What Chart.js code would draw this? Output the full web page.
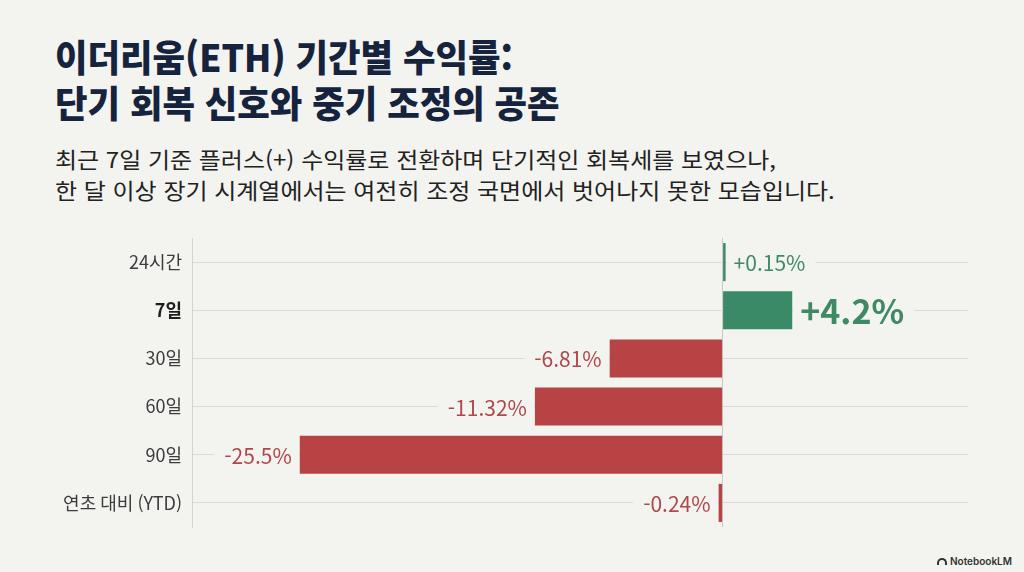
<!DOCTYPE html>
<html lang="ko">
<head>
<meta charset="utf-8">
<script src="https://cdn.jsdelivr.net/npm/chart.js@4.4.1/dist/chart.umd.min.js"></script>
<style>
  html, body { margin:0; padding:0; background:#f3f3ef; }
  body { width:1024px; height:572px; position:relative; overflow:hidden; font-family:"Noto Sans CJK KR","Noto Sans",sans-serif; }
  #title { position:absolute; left:55px; top:33px; margin:0; font-size:37px; font-weight:900; color:#15233d; line-height:46px; white-space:nowrap; transform:scaleX(0.955); transform-origin:0 0; }
  #sub { position:absolute; left:55px; top:143px; margin:0; font-size:22px; font-weight:400; color:#222; line-height:31px; white-space:nowrap; transform:scaleX(1.09); transform-origin:0 0; }
  #wrap { position:absolute; left:0; top:220px; width:1024px; height:325px; }
  #brand { position:absolute; right:12px; bottom:5px; font-family:"Inter","Noto Sans",sans-serif; font-size:10px; font-weight:600; color:#333; display:flex; align-items:center; gap:3px; }
  #brand .ic { width:10px; height:7px; border:2px solid #333; border-bottom:none; border-radius:7px 7px 0 0; box-sizing:border-box; }
</style>
</head>
<body>
<h1 id="title">이더리움(ETH) 기간별 수익률:<br>단기 회복 신호와 중기 조정의 공존</h1>
<p id="sub">최근 7일 기준 플러스(+) 수익률로 전환하며 단기적인 회복세를 보였으나,<br>한 달 이상 장기 시계열에서는 여전히 조정 국면에서 벗어나지 못한 모습입니다.</p>
<div id="wrap"><canvas id="c"></canvas></div>
<div id="brand"><span class="ic"></span>NotebookLM</div>
<script>
const categories = ["24시간", "7일", "30일", "60일", "90일", "연초 대비 (YTD)"];
const returnsPct = [0.15, 4.2, -6.81, -11.32, -25.5, -0.24];
const valueLabels = ["+0.15%", "+4.2%", "-6.81%", "-11.32%", "-25.5%", "-0.24%"];
const highlightIndex = 1;

const BG = "#f3f3ef";
const GREEN = "#3b8a67";
const RED = "#b74345";
const GREEN_TXT = "#3f8a64";
const RED_TXT = "#b0474a";
const FONT = '"Noto Sans CJK KR", "Noto Sans", sans-serif';

const labelPlugin = {
  id: "valueLabels",
  afterDatasetsDraw(chart) {
    const ctx = chart.ctx;
    const meta = chart.getDatasetMeta(0);
    meta.data.forEach((bar, i) => {
      const v = returnsPct[i];
      const hi = i === highlightIndex;
      const size = hi ? 34 : 21;
      ctx.save();
      ctx.font = (hi ? "700 " : "400 ") + size + "px " + FONT;
      ctx.textBaseline = "middle";
      const txt = valueLabels[i];
      const w = ctx.measureText(txt).width;
      const pad = 8;
      ctx.fillStyle = BG;
      let x;
      if (v >= 0) {
        ctx.textAlign = "left"; x = bar.x + pad;
        ctx.fillRect(bar.x + 1, bar.y - 4, pad - 1 + w + 10, 8);
      } else {
        ctx.textAlign = "right"; x = bar.x - pad;
        ctx.fillRect(x - w - 10, bar.y - 4, pad - 1 + w + 10, 8);
      }
      ctx.fillStyle = v >= 0 ? GREEN_TXT : RED_TXT;
      ctx.fillText(txt, x, bar.y + 1);
      ctx.restore();
    });
  }
};

new Chart(document.getElementById("c"), {
  type: "bar",
  data: {
    labels: categories,
    datasets: [{
      data: returnsPct,
      backgroundColor: returnsPct.map(v => v >= 0 ? GREEN : RED),
      borderWidth: 0,
      barPercentage: 0.79,
      categoryPercentage: 1.0,
      minBarLength: 3
    }]
  },
  options: {
    indexAxis: "y",
    responsive: true,
    maintainAspectRatio: false,
    animation: false,
    devicePixelRatio: 1,
    layout: { padding: { top: 18, bottom: 18, left: 0, right: 56 } },
    plugins: { legend: { display: false }, tooltip: { enabled: false }, title: { display: false } },
    scales: {
      x: {
        min: -32, max: 14.8,
        ticks: { display: false, stepSize: 1 },
        grid: {
          drawTicks: false,
          lineWidth: 1,
          color: c => (c.tick && c.tick.value === 0) ? "#c9c9c6" : "rgba(0,0,0,0)"
        },
        border: { display: false },
        afterFit: s => { s.height = 0; s.paddingLeft = 0; s.paddingRight = 0; }
      },
      y: {
        offset: true,
        grid: { offset: false, color: "#dadad8", lineWidth: 1, drawTicks: false },
        border: { display: true, color: "#d3d3d0", width: 1 },
        ticks: {
          padding: 10,
          color: ctx => ctx.index === highlightIndex ? "#1e1e1e" : "#3c3c3c",
          font: ctx => ({ family: FONT, size: 18, weight: ctx.index === highlightIndex ? "700" : "400" })
        },
        afterFit: s => { s.width = 192; s.paddingTop = 0; s.paddingBottom = 0; }
      }
    }
  },
  plugins: [labelPlugin]
});
</script>
</body>
</html>
